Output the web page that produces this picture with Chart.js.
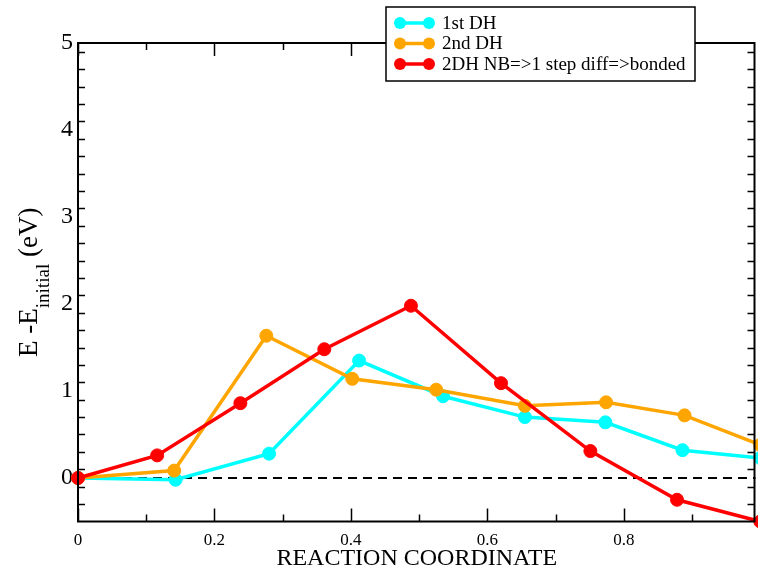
<!DOCTYPE html>
<html>
<head>
<meta charset="utf-8">
<script src="https://cdn.jsdelivr.net/npm/chart.js@4"></script>
<style>
  html, body { margin: 0; padding: 0; background: #fff; overflow: hidden; }
  #wrap { width: 758px; height: 571px; overflow: hidden; }
</style>
</head>
<body>
<div id="wrap"><canvas id="neb" width="763" height="571"></canvas></div>
<script>
// ---- dados ----
const seriesNames = ['1st DH', '2nd DH', '2DH NB=>1 step diff=>bonded']
const seriesColors = ['#00ffff', '#ffa500', '#ff0000']

// 1st DH
const xFirst = [0, 0.143, 0.28, 0.412, 0.535, 0.655, 0.773, 0.886, 1.0]
const yFirst = [0, -0.02, 0.28, 1.35, 0.94, 0.70, 0.64, 0.32, 0.23]
// 2nd DH
const xSecond = [0, 0.141, 0.276, 0.402, 0.525, 0.655, 0.774, 0.889, 1.0]
const ySecond = [0, 0.085, 1.635, 1.14, 1.015, 0.83, 0.87, 0.72, 0.38]
// 2DH NB => bonded
const xBonded = [0, 0.116, 0.238, 0.361, 0.488, 0.620, 0.751, 0.878, 1.0]
const yBonded = [0, 0.26, 0.86, 1.48, 1.98, 1.09, 0.31, -0.25, -0.5]

// linha tracejada do zero
const xZero = [0, 1]
const yZero = [0, 0]

// eixos (o lado direito do gráfico original está cortado um pouco antes de 1)
const xMin = 0, xMax = 0.993, xMajor = 0.2, xMinor = 0.1
const yMin = -0.5, yMax = 5, yMajor = 1, yMinor = 0.2
const xTitle = 'REACTION COORDINATE'

const toPts = (xs, ys) => xs.map((x, i) => ({ x: x, y: ys[i] }))

const serif = "'Liberation Serif', 'DejaVu Serif', serif"

function serie(i, xs, ys, order) {
    return {
        label: seriesNames[i],
        data: toPts(xs, ys),
        borderColor: seriesColors[i],
        backgroundColor: seriesColors[i],
        pointBackgroundColor: seriesColors[i],
        pointBorderColor: seriesColors[i],
        borderWidth: 3.5,
        pointRadius: 6.5,
        pointBorderWidth: 1,
        showLine: true,
        tension: 0,
        clip: false,
        order: order
    }
}

// ticks para dentro nos 4 lados + moldura (estilo xmgrace)
const frameTicks = {
    id: 'frameTicks',
    afterDatasetsDraw(chart) {
        const { ctx, chartArea: a, scales } = chart
        const sx = scales.x, sy = scales.y
        const right = a.right - 1
        ctx.save()
        // só dentro da moldura
        ctx.beginPath()
        ctx.rect(a.left, a.top, right - a.left, a.bottom - a.top)
        ctx.clip()
        ctx.strokeStyle = '#000'
        ctx.lineWidth = 1.5
        ctx.beginPath()
        for (let k = 0; k <= Math.floor((xMax - xMin) / xMinor + 1e-6); k++) {
            const v = xMin + k * xMinor
            const px = Math.round(sx.getPixelForValue(v)) + 0.5
            const len = (k % 2 === 0) ? 13 : 7
            ctx.moveTo(px, a.bottom); ctx.lineTo(px, a.bottom - len)
            ctx.moveTo(px, a.top); ctx.lineTo(px, a.top + len)
        }
        for (let k = 0; k <= Math.round((yMax - yMin) / yMinor); k++) {
            const v = yMin + k * yMinor
            const py = Math.round(sy.getPixelForValue(v)) + 0.5
            const isMajor = Math.abs(v - Math.round(v)) < 1e-6
            const len = isMajor ? 13 : 7
            ctx.moveTo(a.left, py); ctx.lineTo(a.left + len, py)
            ctx.moveTo(right, py); ctx.lineTo(right - len, py)
        }
        ctx.stroke()
        ctx.restore()
        ctx.save()
        ctx.strokeStyle = '#000'
        ctx.lineWidth = 2
        ctx.strokeRect(a.left, a.top, right - a.left, a.bottom - a.top)
        ctx.restore()
    },
    afterDraw(chart) {
        const ctx = chart.ctx
        const a = chart.chartArea
        ctx.save()
        // título do eixo y com subscrito
        const mainFont = '27px ' + serif
        const subFont = '19px ' + serif
        const p1 = 'E -E', p2 = 'initial', p3 = ' (eV)'
        ctx.font = mainFont
        const w1 = ctx.measureText(p1).width
        const w3 = ctx.measureText(p3).width
        ctx.font = subFont
        const w2 = ctx.measureText(p2).width
        const total = w1 + w2 + w3
        ctx.translate(37, (a.top + a.bottom) / 2)
        ctx.rotate(-Math.PI / 2)
        ctx.fillStyle = '#000'
        ctx.textBaseline = 'alphabetic'
        ctx.textAlign = 'left'
        let x0 = -total / 2
        ctx.font = mainFont
        ctx.fillText(p1, x0, 0)
        ctx.font = subFont
        ctx.fillText(p2, x0 + w1, 12)
        ctx.font = mainFont
        ctx.fillText(p3, x0 + w1 + w2, 0)
        ctx.restore()

        // legenda em caixa
        ctx.save()
        const bx = 386, by = 7, bw = 309, bh = 74
        ctx.fillStyle = '#fff'
        ctx.fillRect(bx, by, bw, bh)
        ctx.strokeStyle = '#000'
        ctx.lineWidth = 1.5
        ctx.strokeRect(bx, by, bw, bh)
        const rows = [23, 43.5, 64]
        ctx.font = '19px ' + serif
        ctx.textBaseline = 'middle'
        seriesNames.forEach((name, i) => {
            const y = rows[i]
            ctx.strokeStyle = seriesColors[i]
            ctx.fillStyle = seriesColors[i]
            ctx.lineWidth = 3.5
            ctx.beginPath(); ctx.moveTo(400, y); ctx.lineTo(429, y); ctx.stroke()
            ctx.beginPath(); ctx.arc(400, y, 6, 0, Math.PI * 2); ctx.fill()
            ctx.beginPath(); ctx.arc(429, y, 6, 0, Math.PI * 2); ctx.fill()
            ctx.fillStyle = '#000'
            ctx.fillText(name, 442, y + 1)
        })
        ctx.restore()
    }
}

const config = {
    type: 'scatter',
    data: {
        datasets: [
            serie(2, xBonded, yBonded, 1),
            serie(1, xSecond, ySecond, 2),
            serie(0, xFirst, yFirst, 3),
            {
                label: 'zero',
                data: toPts(xZero, yZero),
                borderColor: '#000',
                borderWidth: 2,
                borderDash: [9, 6],
                pointRadius: 0,
                showLine: true,
                order: 4
            }
        ]
    },
    options: {
        responsive: false,
        devicePixelRatio: 1,
        animation: false,
        layout: { padding: { top: 43, left: 0, right: 0, bottom: 0 } },
        plugins: { legend: { display: false }, tooltip: { enabled: false } },
        scales: {
            x: {
                type: 'linear',
                min: xMin, max: xMax,
                grid: { display: false, drawTicks: false },
                border: { display: false },
                ticks: {
                    stepSize: xMajor,
                    padding: 9,
                    color: '#000',
                    font: { family: serif, size: 17 },
                    maxRotation: 0,
                    autoSkip: false,
                    callback: v => (v > 0.9 ? '' : (Math.abs(v) < 1e-9 ? '0' : v.toFixed(1)))
                },
                title: {
                    display: true,
                    text: xTitle,
                    color: '#000',
                    font: { family: serif, size: 24 },
                    padding: { top: 0, bottom: -2 }
                },
                afterFit: s => { s.height = 49.5; s.paddingRight = 0; s.paddingLeft = 0 }
            },
            y: {
                type: 'linear',
                min: yMin, max: yMax,
                grid: { display: false, drawTicks: false },
                border: { display: false },
                ticks: {
                    stepSize: yMajor,
                    padding: 5,
                    color: '#000',
                    font: { family: serif, size: 24 },
                    callback: v => (Math.abs(v - Math.round(v)) < 1e-6 ? String(Math.round(v)) : '')
                },
                afterFit: s => { s.width = 78; s.paddingTop = 0; s.paddingBottom = 0 }
            }
        }
    },
    plugins: [frameTicks]
}

const grafico = new Chart(document.getElementById('neb').getContext('2d'), config)
</script>
</body>
</html>
